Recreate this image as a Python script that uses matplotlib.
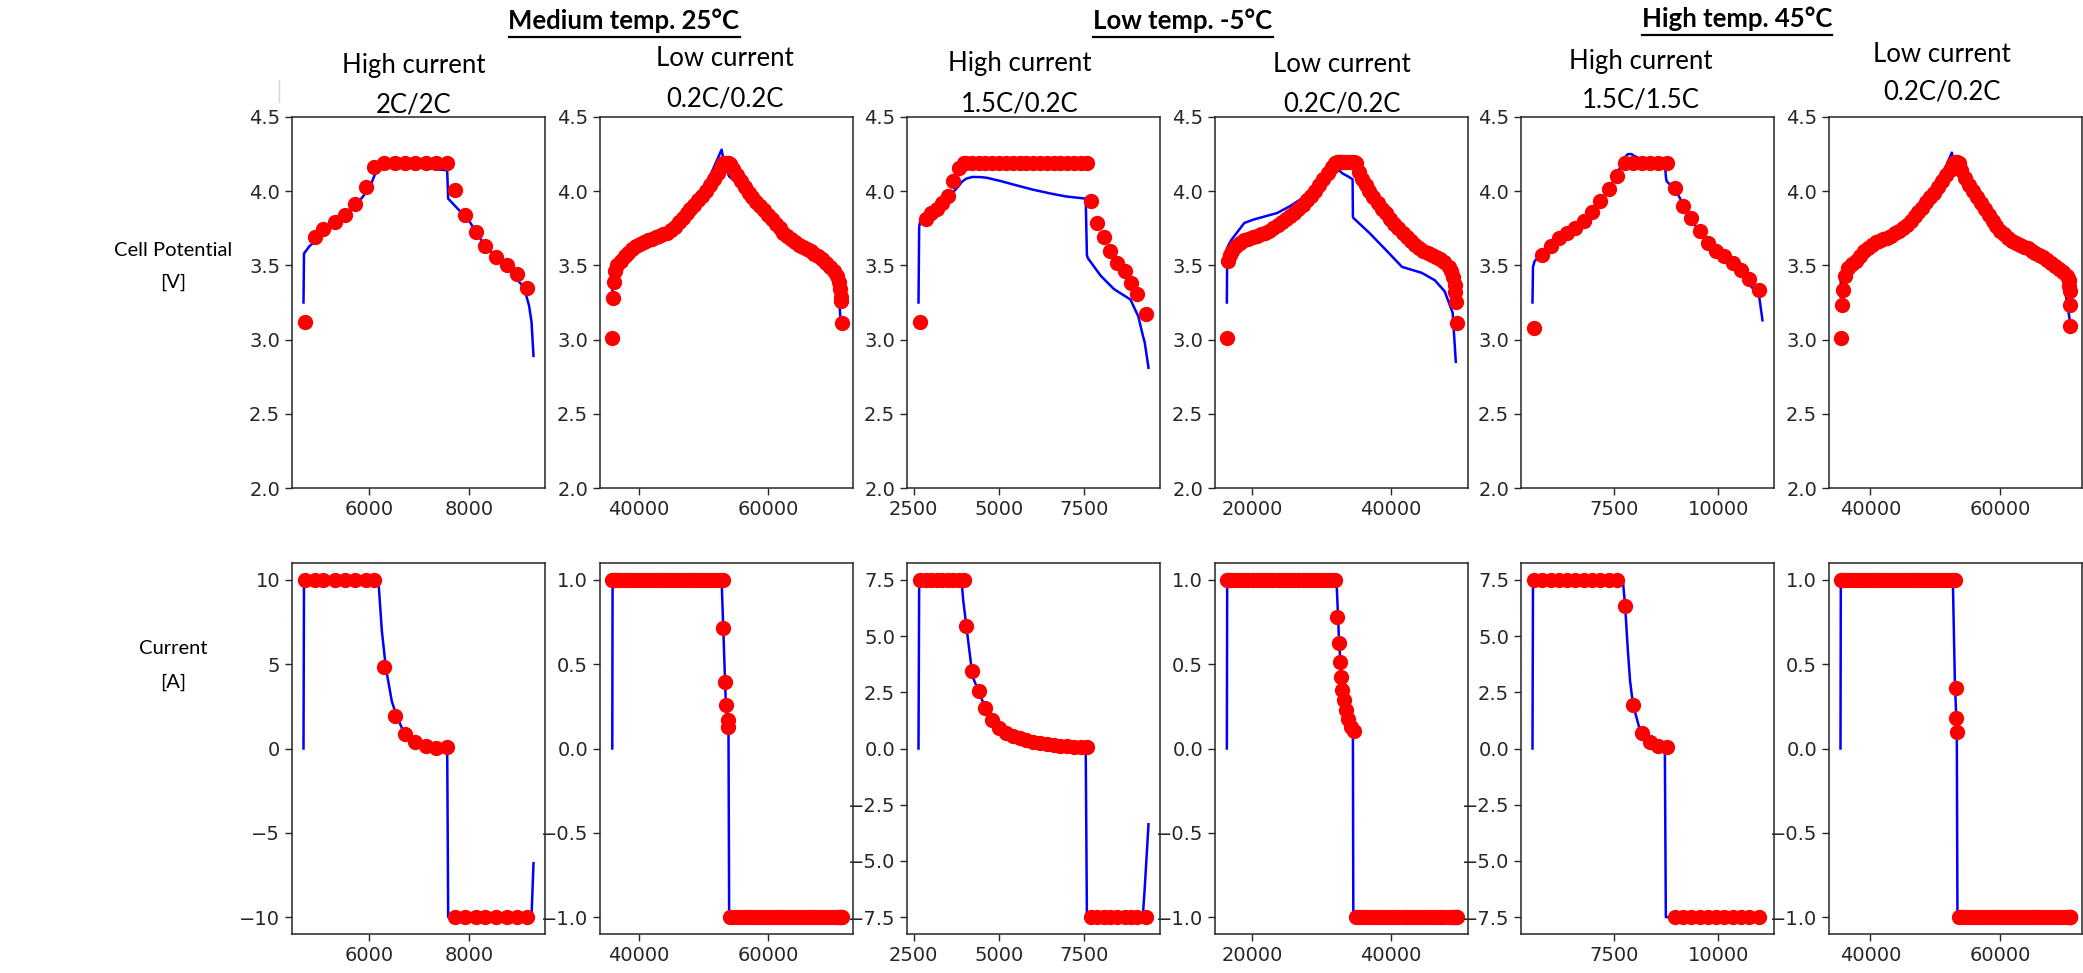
import numpy as np
import matplotlib
matplotlib.use("Agg")
import matplotlib.pyplot as plt
from matplotlib.lines import Line2D
from matplotlib.ticker import MaxNLocator

# ---------------- data ----------------
# 25 C, high current 2C/2C
t25h_dots = [4712, 4910, 5075, 5306, 5504, 5722, 5934, 6099, 6290, 6510, 6710, 6915,
             7130, 7345, 7550, 7710, 7914, 8135, 8317, 8535, 8755, 8956, 9160]
v25h_dots = [3.12, 3.69, 3.745, 3.79, 3.84, 3.916, 4.03, 4.16, 4.19, 4.19, 4.19, 4.19,
             4.19, 4.19, 4.19, 4.006, 3.84, 3.725, 3.63, 3.557, 3.50, 3.44, 3.35]
i25h_dots = [10, 10, 10, 10, 10, 10, 10, 10, 4.83, 1.9, 0.85, 0.4,
             0.15, 0.05, 0.1, -10, -10, -10, -10, -10, -10, -10, -10]
t25h_line = [4680, 4690, 4800, 5300, 5700, 6000, 6180, 6250, 6330, 6450, 6550, 6700,
             7000, 7300, 7560, 7580, 8000, 8300, 8800, 9100, 9200, 9250, 9290]
v25h_line = [3.25, 3.58, 3.63, 3.77, 3.89, 4.02, 4.17, 4.18, 4.18, 4.17, 4.17, 4.16,
             4.16, 4.15, 4.14, 3.95, 3.80, 3.64, 3.47, 3.35, 3.23, 3.12, 2.89]
i25h_line = [0, 10, 10, 10, 10, 10, 10, 7.0, 4.8, 2.8, 1.9, 0.9,
             0.35, 0.15, 0.1, -10, -10, -10, -10, -10, -10, -10, -6.8]

# 25 C, low current 0.2C/0.2C
t25l_dots = [35780, 35950, 36100, 36350, 36700, 37200, 37800, 38400, 39000, 39600,
             40200, 40800, 41400, 42000, 42600, 43200, 43800, 44400, 45000, 45600,
             46200, 46800, 47400, 48000, 48600, 49200, 49800, 50400, 51000, 51600,
             52200, 52700, 53000,
             53100, 53350, 53500, 53750, 53850,
             54100, 54600, 55200, 55800, 56400, 57000, 57600, 58200, 58800, 59400,
             60000, 60600, 61200, 61800, 62400, 63000, 63600, 64200, 64800, 65400,
             66000, 66600, 67200, 67800, 68400, 69000, 69600, 70200, 70700, 71000,
             71150, 71250, 71300, 71400]
v25l_dots = [3.01, 3.28, 3.39, 3.46, 3.50, 3.53, 3.56, 3.585, 3.61, 3.63,
             3.645, 3.66, 3.67, 3.68, 3.69, 3.70, 3.71, 3.72, 3.74, 3.76,
             3.79, 3.82, 3.85, 3.88, 3.91, 3.94, 3.97, 4.00, 4.04, 4.08,
             4.12, 4.16, 4.18,
             4.19, 4.19, 4.19, 4.19, 4.19,
             4.18, 4.15, 4.11, 4.07, 4.03, 3.99, 3.96, 3.93, 3.90, 3.87,
             3.84, 3.81, 3.78, 3.75, 3.72, 3.695, 3.675, 3.655, 3.64, 3.625,
             3.61, 3.595, 3.58, 3.56, 3.54, 3.515, 3.49, 3.46, 3.43, 3.39,
             3.34, 3.29, 3.26, 3.11]
i25l_dots = [1.0] * 33 + [0.716, 0.396, 0.256, 0.17, 0.126] + [-1.0] * 34
t25l_line = [35900, 35950, 36500, 38000, 40000, 44000, 47000, 50000, 52830, 53100,
             53500, 53900, 54000, 57000, 60000, 63000, 66000, 69000, 70800, 71300]
v25l_line = [3.25, 3.45, 3.52, 3.60, 3.66, 3.72, 3.84, 4.00, 4.28, 4.22,
             4.16, 4.11, 4.10, 3.99, 3.84, 3.69, 3.61, 3.51, 3.42, 3.10]
i25l_line = [0, 1, 1, 1, 1, 1, 1, 1, 1, 0.7,
             0.25, 0.1, -1, -1, -1, -1, -1, -1, -1, -1]

# -5 C, high current 1.5C/0.2C
tm5h_dots = [2682, 2856, 3020, 3180, 3330, 3490, 3656, 3818,
             3962, 4040, 4204, 4400, 4600, 4800, 5000, 5200, 5400, 5600, 5800,
             6000, 6200, 6400, 6600, 6800, 7000, 7200, 7400, 7575,
             7691, 7884, 8078, 8251, 8462, 8685, 8877, 9051, 9311]
vm5h_dots = [3.12, 3.815, 3.85, 3.88, 3.92, 3.97, 4.07, 4.156,
             4.19, 4.19, 4.19, 4.19, 4.19, 4.19, 4.19, 4.19, 4.19, 4.19, 4.19,
             4.19, 4.19, 4.19, 4.19, 4.19, 4.19, 4.19, 4.19, 4.19,
             3.932, 3.786, 3.69, 3.60, 3.515, 3.46, 3.38, 3.31, 3.17]
im5h_dots = [7.5, 7.5, 7.5, 7.5, 7.5, 7.5, 7.5, 7.5,
             7.5, 5.47, 3.45, 2.55, 1.8, 1.25, 0.93, 0.71, 0.57, 0.46, 0.37,
             0.31, 0.25, 0.20, 0.16, 0.13, 0.10, 0.08, 0.07, 0.07,
             -7.5, -7.5, -7.5, -7.5, -7.5, -7.5, -7.5, -7.5, -7.5]
tm5h_line = [2640, 2660, 2700, 3000, 3400, 3800, 3900, 3950, 4040, 4204, 4252,
             4464, 4656, 4829, 5023, 5500, 6000, 6500, 6950, 7540, 7575, 7600,
             7980, 8370, 8850, 9080, 9212, 9270, 9380]
vm5h_line = [3.25, 3.76, 3.81, 3.85, 3.93, 4.03, 4.06, 4.07, 4.085, 4.095, 4.096,
             4.095, 4.09, 4.08, 4.07, 4.04, 4.01, 3.985, 3.965, 3.95, 3.57, 3.55,
             3.43, 3.34, 3.27, 3.157, 3.03, 2.98, 2.81]
im5h_line = [0, 7.5, 7.5, 7.5, 7.5, 7.5, 7.5, 6.6, 5.47, 3.45, 3.1,
             2.3, 1.62, 1.17, 0.9, 0.52, 0.31, 0.18, 0.1, 0.06, -7.5, -7.5,
             -7.5, -7.5, -7.5, -7.5, -7.5, -6.2, -3.37]

# -5 C, low current 0.2C/0.2C
tm5l_dots = [16350, 16560, 16800, 17200, 17700, 18300, 18900, 19500, 20100, 20700,
             21300, 21900, 22500, 23100, 23700, 24300, 24900, 25500, 26100, 26700,
             27300, 27900, 28500, 29100, 29700, 30300, 30900, 31500, 32000,
             32320, 32560, 32740, 32890, 33030, 33210, 33500, 33830, 34300, 34770,
             35010, 35400, 35900, 36400, 36900, 37500, 38100, 38700, 39300, 39900,
             40500, 41100, 41700, 42300, 42900, 43500, 44100, 44700, 45300, 45900,
             46500, 47100, 47700, 48300, 48700, 49000, 49200, 49300, 49380, 49450]
vm5l_dots = [3.01, 3.53, 3.57, 3.60, 3.63, 3.65, 3.67, 3.68, 3.69, 3.70,
             3.71, 3.72, 3.735, 3.75, 3.77, 3.79, 3.81, 3.83, 3.855, 3.88,
             3.91, 3.94, 3.97, 4.00, 4.04, 4.08, 4.12, 4.16, 4.19,
             4.20, 4.20, 4.20, 4.20, 4.20, 4.20, 4.20, 4.20, 4.20, 4.20,
             4.19, 4.13, 4.08, 4.04, 4.00, 3.96, 3.92, 3.88, 3.85, 3.81,
             3.78, 3.75, 3.72, 3.69, 3.665, 3.64, 3.62, 3.60, 3.585, 3.57,
             3.555, 3.54, 3.52, 3.49, 3.46, 3.42, 3.37, 3.32, 3.25, 3.11]
im5l_dots = [1.0] * 29 + [0.78, 0.626, 0.512, 0.426, 0.346, 0.286, 0.226, 0.176,
                          0.126, 0.106] + [-1.0] * 30
tm5l_line = [16400, 16450, 16560, 17030, 18910, 20330, 23640, 25520, 27500, 29500,
             31650, 32180, 32560, 33030, 33830, 34500, 34540, 34600, 36890, 39250,
             41610, 44440, 46330, 47750, 48900, 49350]
vm5l_line = [3.25, 3.60, 3.63, 3.67, 3.786, 3.81, 3.853, 3.90, 3.96, 4.03,
             4.17, 4.16, 4.14, 4.12, 4.10, 4.08, 3.83, 3.82, 3.72, 3.606,
             3.49, 3.45, 3.40, 3.325, 3.18, 2.85]
im5l_line = [0, 1, 1, 1, 1, 1, 1, 1, 1, 1,
             1, 1, 0.626, 0.346, 0.176, 0.11, 0.1, -1, -1, -1,
             -1, -1, -1, -1, -1, -1]

# 45 C, high current 1.5C/1.5C
t45h_dots = [5566, 5767, 5965, 6163, 6363, 6561, 6760, 6960, 7159, 7357, 7557,
             7756, 7955, 8154, 8353, 8552, 8751,
             8950, 9148, 9347, 9546, 9745, 9945, 10143, 10342, 10542, 10740, 10980]
v45h_dots = [3.08, 3.572, 3.628, 3.685, 3.718, 3.752, 3.80, 3.857, 3.936, 4.015, 4.105,
             4.19, 4.19, 4.19, 4.19, 4.19, 4.19,
             4.02, 3.90, 3.82, 3.73, 3.65, 3.595, 3.56, 3.516, 3.47, 3.41, 3.336]
i45h_dots = [7.5, 7.5, 7.5, 7.5, 7.5, 7.5, 7.5, 7.5, 7.5, 7.5, 7.5,
             6.34, 1.92, 0.69, 0.31, 0.12, 0.07,
             -7.5, -7.5, -7.5, -7.5, -7.5, -7.5, -7.5, -7.5, -7.5, -7.5, -7.5]
t45h_line = [5528, 5540, 5580, 6000, 6500, 7000, 7500, 7700, 7756, 7820, 7875, 7915,
             7954, 8114, 8353, 8711, 8735, 8751, 9000, 9500, 10000, 10500, 10980, 11060]
v45h_line = [3.25, 3.49, 3.53, 3.63, 3.74, 3.86, 4.08, 4.20, 4.23, 4.25, 4.25, 4.25,
             4.24, 4.22, 4.21, 4.20, 4.10, 4.07, 3.99, 3.74, 3.58, 3.46, 3.29, 3.13]
i45h_line = [0, 7.5, 7.5, 7.5, 7.5, 7.5, 7.5, 7.5, 6.34, 4.4, 3.0, 2.4,
             1.9, 0.8, 0.3, 0.05, -7.5, -7.5, -7.5, -7.5, -7.5, -7.5, -7.5, -7.5]

# 45 C, low current 0.2C/0.2C
t45l_dots = [35490, 35700, 35850, 36100, 36600, 37200, 37800, 38400, 39000, 39600,
             40200, 40800, 41400, 42000, 42600, 43200, 43800, 44400, 45000, 45600,
             46200, 46800, 47400, 48000, 48600, 49200, 49800, 50400, 51000, 51600,
             52200, 52700, 53060,
             53100, 53250, 53330,
             53570, 54000, 54600, 55200, 55800, 56400, 57000, 57600, 58200, 58800,
             59400, 60000, 60600, 61200, 61800, 62400, 63000, 63600, 64200, 64800,
             65400, 66000, 66600, 67200, 67800, 68400, 69000, 69600, 70200, 70500,
             70600, 70650, 70700, 70780]
v45l_dots = [3.01, 3.235, 3.336, 3.426, 3.48, 3.51, 3.53, 3.56, 3.60, 3.62,
             3.64, 3.655, 3.665, 3.675, 3.685, 3.70, 3.715, 3.73, 3.75, 3.775,
             3.80, 3.83, 3.86, 3.89, 3.925, 3.96, 3.99, 4.03, 4.07, 4.11,
             4.145, 4.18, 4.20,
             4.20, 4.20, 4.20,
             4.19, 4.14, 4.09, 4.04, 4.00, 3.96, 3.92, 3.88, 3.84, 3.80,
             3.765, 3.735, 3.71, 3.685, 3.665, 3.65, 3.635, 3.625, 3.615, 3.60,
             3.585, 3.57, 3.555, 3.535, 3.515, 3.495, 3.475, 3.455, 3.43, 3.40,
             3.36, 3.325, 3.235, 3.094]
i45l_dots = [1.0] * 33 + [0.356, 0.18, 0.10] + [-1.0] * 34
t45l_line = [35400, 35450, 36000, 38000, 42000, 47000, 50000, 52540, 52690, 53000,
             53300, 53400, 55000, 58000, 62000, 66000, 69500, 70800]
v45l_line = [3.29, 3.40, 3.45, 3.55, 3.67, 3.84, 4.00, 4.26, 4.22, 4.17,
             4.13, 4.12, 4.05, 3.85, 3.68, 3.58, 3.46, 3.10]
i45l_line = [0, 1, 1, 1, 1, 1, 1, 1, 1, 0.4,
             0.1, -1, -1, -1, -1, -1, -1, -1]

headers = ["Medium temp. 25°C", "Low temp. -5°C", "High temp. 45°C"]
sub_top = ["High current", "Low current", "High current", "Low current",
           "High current", "Low current"]
sub_bottom = ["2C/2C", "0.2C/0.2C", "1.5C/0.2C", "0.2C/0.2C", "1.5C/1.5C", "0.2C/0.2C"]
row_labels = [("Cell Potential", "[V]"), ("Current", "[A]")]
v_ticks = [2.0, 2.5, 3.0, 3.5, 4.0, 4.5]

columns = [
    (t25h_line, v25h_line, i25h_line, t25h_dots, v25h_dots, i25h_dots),
    (t25l_line, v25l_line, i25l_line, t25l_dots, v25l_dots, i25l_dots),
    (tm5h_line, vm5h_line, im5h_line, tm5h_dots, vm5h_dots, im5h_dots),
    (tm5l_line, vm5l_line, im5l_line, tm5l_dots, vm5l_dots, im5l_dots),
    (t45h_line, v45h_line, i45h_line, t45h_dots, v45h_dots, i45h_dots),
    (t45l_line, v45l_line, i45l_line, t45l_dots, v45l_dots, i45l_dots),
]

# ---------------- layout (pixels in a 2083 x 973 canvas) ----------------
W, H = 2083, 973
col_left = [292, 600, 907, 1215, 1521, 1829]
col_w = 253
row_top = [117, 563]
row_h = 371
NICE = [1, 2, 2.5, 5, 10]

TEXT_FONT = ["Lato", "DejaVu Sans"]
INK = "#262626"

plt.rcParams["font.family"] = "DejaVu Sans"
plt.rcParams["axes.edgecolor"] = INK
plt.rcParams["axes.linewidth"] = 1.1
plt.rcParams["xtick.color"] = INK
plt.rcParams["ytick.color"] = INK
plt.rcParams["xtick.labelsize"] = 14
plt.rcParams["ytick.labelsize"] = 14
plt.rcParams["xtick.major.size"] = 5
plt.rcParams["ytick.major.size"] = 5
plt.rcParams["xtick.major.width"] = 1.0
plt.rcParams["ytick.major.width"] = 1.0

fig = plt.figure(figsize=(W / 100, H / 100), dpi=100)


def px_axes(left, top, w, h):
    return fig.add_axes([left / W, 1 - (top + h) / H, w / W, h / H])


for c, (tl, vl, il, td, vd, idots) in enumerate(columns):
    ax_v = px_axes(col_left[c], row_top[0], col_w, row_h)
    ax_v.plot(tl, vl, color="blue", lw=1.8)
    ax_v.plot(td, vd, "o", color="red", ms=10)
    ax_v.set_ylim(2.0, 4.5)
    ax_v.set_yticks(v_ticks)
    ax_v.xaxis.set_major_locator(MaxNLocator(3, steps=NICE))

    ax_i = px_axes(col_left[c], row_top[1], col_w, row_h)
    ax_i.plot(tl, il, color="blue", lw=1.8)
    ax_i.plot(td, idots, "o", color="red", ms=10)
    ax_i.yaxis.set_major_locator(MaxNLocator(7, steps=NICE))
    ax_i.xaxis.set_major_locator(MaxNLocator(3, steps=NICE))
    # both panels of a column share the same time span
    ax_i.set_xlim(ax_v.get_xlim())


def fig_text(x, y, s, **kw):
    return fig.text(x / W, 1 - y / H, s, ha="center", va="center",
                    family=TEXT_FONT, **kw)


# column headers, bold and underlined
header_pos = [(624, 21), (1183, 21), (1737, 19)]
header_txt = []
for s, (x, y) in zip(headers, header_pos):
    header_txt.append(fig_text(x, y, s, fontsize=18.5, fontweight="bold"))

# sub titles, two lines each
sub_x = [414, 725, 1020, 1342, 1641, 1942]
sub_y = [(66, 105), (59, 99), (64, 104), (64, 104), (61, 100), (54, 92)]
for c in range(6):
    fig_text(sub_x[c], sub_y[c][0], sub_top[c], fontsize=18.5)
    fig_text(sub_x[c], sub_y[c][1], sub_bottom[c], fontsize=18.5)

# row labels
label_y = [(250, 282), (649, 682)]
for (l1, l2), (y1, y2) in zip(row_labels, label_y):
    fig_text(173, y1, l1, fontsize=14.5)
    fig_text(173, y2, l2, fontsize=14.5)

# faint stray mark left of the first panel title
fig.add_artist(Line2D([279 / W, 279 / W], [1 - 80 / H, 1 - 102 / H],
                      color="#d4d4d4", lw=1.0, transform=fig.transFigure))

fig.canvas.draw()
renderer = fig.canvas.get_renderer()
for t in header_txt:
    bb = t.get_window_extent(renderer)
    yy = (bb.y0 - 4) / H
    fig.add_artist(Line2D([bb.x0 / W, bb.x1 / W], [yy, yy], color="black",
                          lw=1.6, transform=fig.transFigure))

fig.savefig("out.png", dpi=100)
